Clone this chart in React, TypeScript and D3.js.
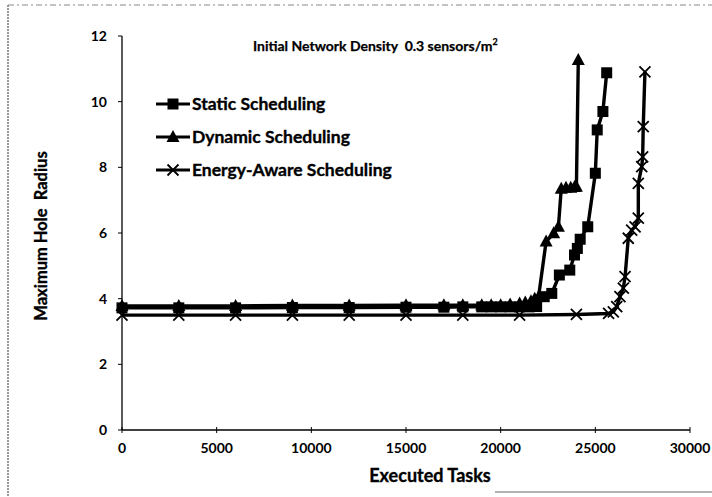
import React from 'react';
import * as d3 from 'd3';

const staticX = [0, 3000, 6000, 9000, 12000, 15000, 17000, 18000, 19000, 19500, 20000, 20500, 21000, 21500, 21900, 22300, 22700, 23100, 23650, 23900, 24050, 24200, 24600, 25000, 25100, 25400, 25600];
const staticY = [3.72, 3.72, 3.72, 3.73, 3.73, 3.74, 3.74, 3.75, 3.75, 3.75, 3.75, 3.75, 3.75, 3.75, 3.76, 4.06, 4.16, 4.72, 4.87, 5.33, 5.53, 5.81, 6.19, 7.82, 9.14, 9.7, 10.88];

const dynamicX = [0, 3000, 6000, 9000, 12000, 15000, 17000, 18000, 19000, 19500, 20000, 20500, 21000, 21300, 21600, 21800, 22000, 22400, 22800, 23050, 23200, 23450, 23700, 23900, 24000, 24100];
const dynamicY = [3.78, 3.78, 3.78, 3.79, 3.79, 3.8, 3.8, 3.8, 3.8, 3.8, 3.8, 3.82, 3.85, 3.88, 3.92, 4.0, 4.05, 5.74, 5.99, 6.19, 7.35, 7.38, 7.38, 7.4, 7.41, 11.27];

const energyX = [0, 3000, 6000, 9000, 12000, 15000, 18000, 21000, 24000, 25700, 25950, 26130, 26300, 26480, 26570, 26740, 26920, 27100, 27270, 27270, 27450, 27500, 27530, 27620];
const energyY = [3.5, 3.5, 3.5, 3.5, 3.5, 3.5, 3.5, 3.5, 3.52, 3.55, 3.6, 3.76, 4.06, 4.32, 4.67, 5.84, 6.09, 6.19, 6.45, 7.51, 8.02, 8.32, 9.24, 10.91];

const xTicks = [0, 5000, 10000, 15000, 20000, 25000, 30000];
const yTicks = [0, 2, 4, 6, 8, 10, 12];

const seriesNames = ['Static Scheduling', 'Dynamic Scheduling', 'Energy-Aware Scheduling'];

const W = 712;
const H = 497;
const left = 122;
const right = 690;
const top = 36;
const bottom = 430;
const font = 'Lato, "Open Sans", sans-serif';

function Marker({ kind, x, y }: { kind: number; x: number; y: number }) {
  if (kind === 0) return <rect x={x - 5.5} y={y - 5.5} width={11} height={11} fill="#000" />;
  if (kind === 1) return <path d={`M${x},${y - 7}L${x + 6.5},${y + 5}L${x - 6.5},${y + 5}Z`} fill="#000" />;
  return (
    <path d={`M${x - 5.5},${y - 5.5}L${x + 5.5},${y + 5.5}M${x - 5.5},${y + 5.5}L${x + 5.5},${y - 5.5}`} stroke="#000" strokeWidth={1.8} fill="none" />
  );
}

export default function App() {
  const x = d3.scaleLinear().domain([0, 30000]).range([left, right]);
  const y = d3.scaleLinear().domain([0, 12]).range([bottom, top]);
  const line = d3
    .line<[number, number]>()
    .x((d) => x(d[0]))
    .y((d) => y(d[1]));

  const series = [
    staticX.map((v, i) => [v, staticY[i]] as [number, number]),
    dynamicX.map((v, i) => [v, dynamicY[i]] as [number, number]),
    energyX.map((v, i) => [v, energyY[i]] as [number, number]),
  ];

  const bold = { fontWeight: 'bold' as const, stroke: '#000', strokeWidth: 0.35 };

  return (
    <svg width={W} height={H} style={{ position: 'absolute', left: 0, top: 0, background: '#fff' }} fontFamily={font}>
      {/* scanned page frame */}
      <line x1={8} y1={5} x2={8} y2={H} stroke="#555" strokeWidth={1.2} strokeDasharray="2,1" />
      <line x1={8} y1={5} x2={W} y2={5} stroke="#888" strokeWidth={1} strokeDasharray="6,3,2,3" />
      <line x1={495} y1={492} x2={W} y2={492} stroke="#666" strokeWidth={1} />

      {/* axes */}
      <line x1={left} y1={top} x2={left} y2={bottom} stroke="#000" strokeWidth={1.3} />
      <line x1={left} y1={bottom} x2={right} y2={bottom} stroke="#000" strokeWidth={1.3} />
      {yTicks.map((t) => (
        <g key={t}>
          <line x1={left - 4} x2={left} y1={y(t)} y2={y(t)} stroke="#000" />
          <text x={left - 15} y={y(t) + 5} fontSize={14} textAnchor="end" fontWeight="bold">
            {t}
          </text>
        </g>
      ))}
      {xTicks.map((t) => (
        <g key={t}>
          <line x1={x(t)} x2={x(t)} y1={bottom - 3} y2={bottom + 3} stroke="#000" />
          <text x={x(t)} y={bottom + 23} fontSize={14} textAnchor="middle" fontWeight="bold">
            {t}
          </text>
        </g>
      ))}
      <text x={430} y={482} fontSize={18} textAnchor="middle" {...bold}>
        Executed Tasks
      </text>
      <text
        transform={`translate(47, 236) rotate(-90)`}
        fontSize={16.5}
        textAnchor="middle"
        xmlSpace="preserve"
        {...bold}
      >
        Maximum Hole  Radius
      </text>

      {/* title */}
      <text x={253} y={51} fontSize={14} xmlSpace="preserve" {...bold} strokeWidth={0.25}>
        Initial Network Density  0.3 sensors/m
        <tspan fontSize={9} dy={-6}>2</tspan>
      </text>

      {/* series */}
      {series.map((s, k) => (
        <g key={k}>
          <path d={line(s) ?? ''} fill="none" stroke="#000" strokeWidth={3.4} />
          {s.map((d, i) => (
            <Marker key={i} kind={k} x={x(d[0])} y={y(d[1])} />
          ))}
        </g>
      ))}

      {/* legend */}
      {seriesNames.map((name, k) => {
        const ly = 104 + k * 33;
        return (
          <g key={name}>
            <line x1={156} x2={190} y1={ly} y2={ly} stroke="#000" strokeWidth={3} />
            <Marker kind={k} x={173} y={ly} />
            <text x={192} y={ly + 6} fontSize={17.5} {...bold}>
              {name}
            </text>
          </g>
        );
      })}
    </svg>
  );
}
